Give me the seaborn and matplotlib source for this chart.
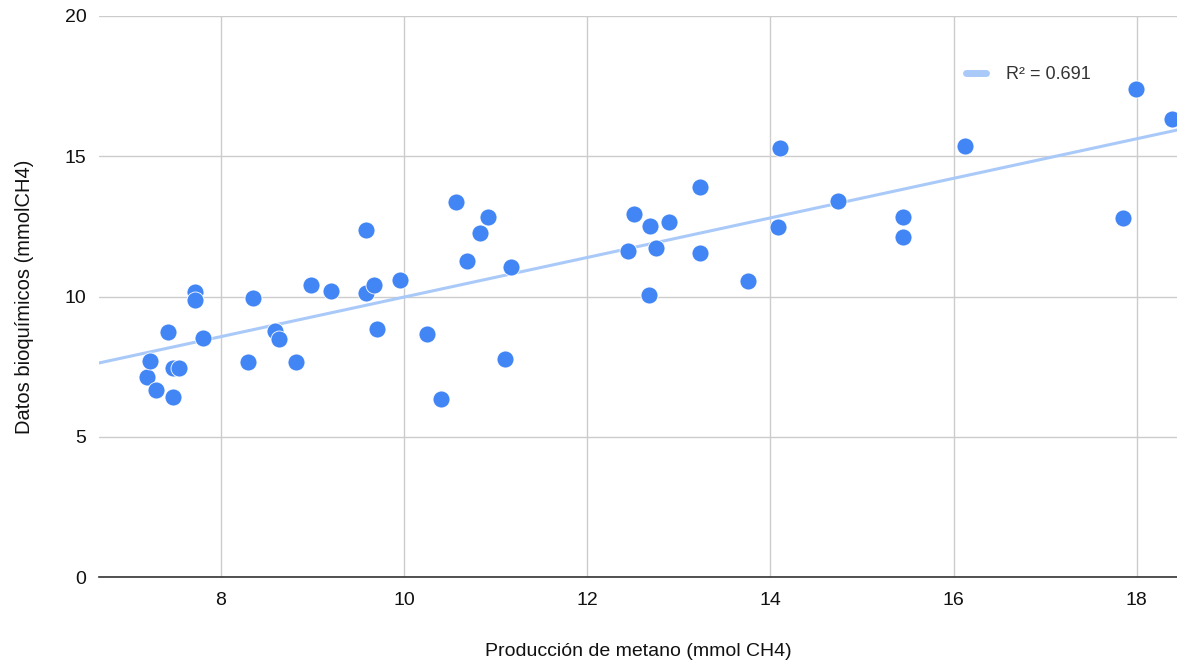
import numpy as np
import pandas as pd
import matplotlib
matplotlib.use("Agg")
import matplotlib.pyplot as plt
import seaborn as sns
from matplotlib.lines import Line2D

produccion = [7.19, 7.22, 7.29, 7.42, 7.47, 7.54, 7.47, 7.71, 7.72, 7.80,
              8.29, 8.35, 8.59, 8.63, 8.82, 8.98, 9.20, 9.58, 9.58, 9.67,
              9.70, 9.95, 10.25, 10.40, 10.57, 10.69, 10.83, 10.91, 11.10, 11.17,
              12.44, 12.51, 12.67, 12.69, 12.75, 12.89, 13.23, 13.23, 13.75, 14.08,
              14.10, 14.74, 15.45, 15.45, 16.13, 17.85, 17.99, 18.39]
bioquimicos = [7.13, 7.70, 6.67, 8.73, 7.45, 7.45, 6.42, 10.16, 9.88, 8.52,
               7.66, 9.95, 8.77, 8.48, 7.66, 10.41, 10.20, 12.37, 10.12, 10.41,
               8.84, 10.59, 8.66, 6.35, 13.37, 11.27, 12.26, 12.83, 7.77, 11.05,
               11.62, 12.94, 10.05, 12.51, 11.73, 12.66, 11.55, 13.90, 10.55, 12.48,
               15.29, 13.40, 12.83, 12.12, 15.37, 12.80, 17.40, 16.33]
x_ticks = [8, 10, 12, 14, 16, 18]
y_ticks = [0, 5, 10, 15, 20]
x_label = "Producción de metano (mmol CH4)"
y_label = "Datos bioquímicos (mmolCH4)"
legend_label = "R² = 0.691"

df = pd.DataFrame({"x": produccion, "y": bioquimicos})

sns.set_theme(style="white")
plt.rcParams["font.family"] = ["Liberation Sans", "DejaVu Sans"]

fig = plt.figure(figsize=(11.77, 6.61), dpi=100)
ax = fig.add_axes([99 / 1177, 1 - 577 / 661, 1 - 99 / 1177, (577 - 16) / 661])
ax.set_xlim(6.667, 18.44)
ax.set_ylim(0, 20)

sns.regplot(data=df, x="x", y="y", ax=ax, ci=None, truncate=False,
            scatter=False, line_kws=dict(color="#a9c9f9", lw=2.2, zorder=2))
sns.scatterplot(data=df, x="x", y="y", ax=ax, color="#4285f4", s=150,
                edgecolor="white", linewidth=0.6, zorder=3)

ax.set_xticks(x_ticks)
ax.set_yticks(y_ticks)
ax.grid(True, color="#cccccc", lw=1)
ax.set_axisbelow(True)
for s in ["left", "right", "top"]:
    ax.spines[s].set_visible(False)
ax.spines["bottom"].set_color("#333333")
ax.spines["bottom"].set_linewidth(1.2)
ax.spines["bottom"].set_zorder(1)
ax.tick_params(axis="both", length=0, labelsize=14, labelcolor="#111111")
ax.tick_params(axis="x", pad=11)
ax.tick_params(axis="y", pad=9)
ax.set_xlabel(x_label, fontsize=14, color="#111111", labelpad=24)
ax.set_ylabel(y_label, fontsize=14.5, color="#111111", labelpad=22)

h = Line2D([], [], color="#a9c9f9", lw=5)
leg = ax.legend([h], [legend_label], loc="upper right", bbox_to_anchor=(0.935, 0.94),
                frameon=False, fontsize=13, handlelength=1.1, handletextpad=1.1)
for t in leg.get_texts():
    t.set_color("#333333")

fig.savefig("out.png", dpi=100)
